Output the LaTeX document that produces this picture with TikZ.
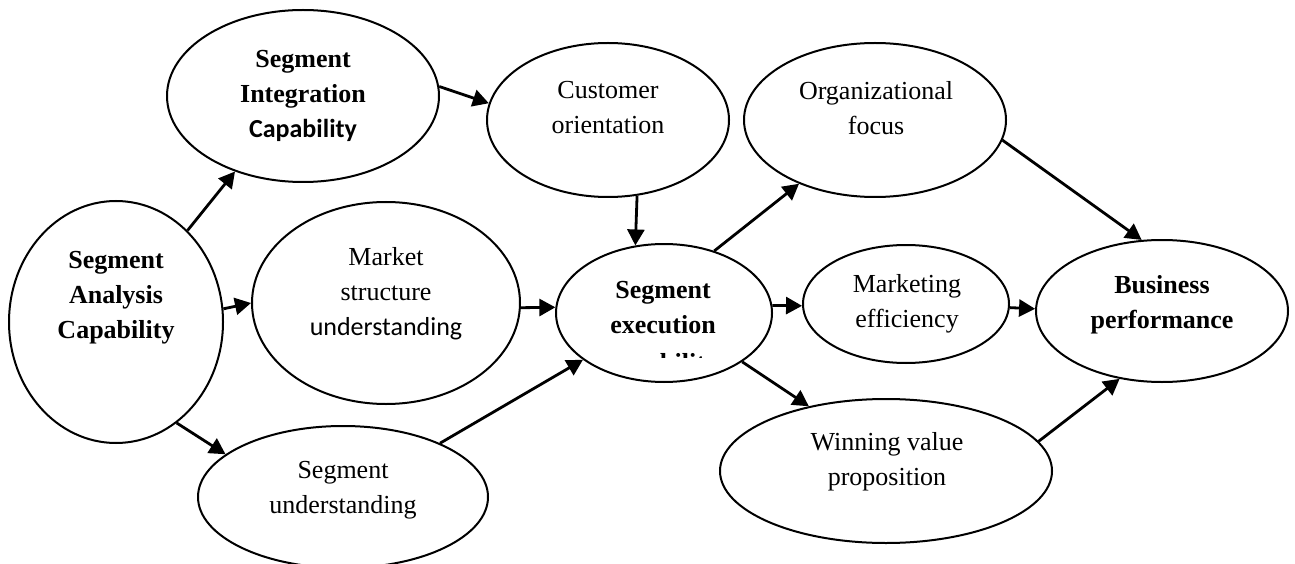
\documentclass[tikz,border=0pt]{standalone}
\usepackage{fontspec}
\setmainfont{Liberation Serif}
\newfontfamily\calibri{Carlito}
\usetikzlibrary{arrows.meta, shapes.geometric}

\begin{document}
\begin{tikzpicture}[x=1pt, y=-1pt, >={Triangle[length=16pt, width=17pt]}]
  \tikzstyle{oval}=[draw, ellipse, line width=2pt, inner sep=0pt]
  \tikzstyle{txt}=[align=center, inner sep=0pt, font=\fontsize{26}{35}\selectfont]
  \tikzstyle{btxt}=[txt, font=\fontsize{26}{35}\selectfont\bfseries]
  \tikzstyle{link}=[->, line width=2.8pt]

  \useasboundingbox (0,0) rectangle (1295,564);

  \node[oval, minimum width=214pt, minimum height=242pt] (ana) at (116,322) {};
  \node[oval, minimum width=272pt, minimum height=172pt] (integ) at (303,96) {};
  \node[oval, minimum width=268pt, minimum height=202pt] (market) at (386,303) {};
  \node[oval, minimum width=290pt, minimum height=142pt] (segund) at (343,497) {};
  \node[oval, minimum width=242pt, minimum height=154pt] (cust) at (608,120) {};
  \node[oval, minimum width=216pt, minimum height=138pt] (exec) at (664,313) {};
  \node[oval, minimum width=262pt, minimum height=154pt] (org) at (875,120) {};
  \node[oval, minimum width=206pt, minimum height=118pt] (mkteff) at (906,304) {};
  \node[oval, minimum width=332pt, minimum height=144pt] (win) at (886,471) {};
  \node[oval, minimum width=252pt, minimum height=142pt] (busi) at (1162,311) {};

  \node[btxt] (ana-t) at (116,298) {Segment\\Analysis\\Capability};
  \node[btxt] (integ-t) at (303,96) {Segment\\Integration\\{\calibri Capability}};
  \node[txt] (market-t) at (386,294) {Market\\structure\\{\calibri understanding}};
  \node[txt] (segund-t) at (343,490) {Segment\\understanding};
  \node[txt] (cust-t) at (608,108) {Customer\\orientation};
  \node[btxt] (exec-t) at (663,308) {Segment\\execution};
  \node[txt] (org-t) at (876,108) {Organizational\\focus};
  \node[txt] (mkteff-t) at (907,304) {Marketing\\efficiency};
  \node[txt] (win-t) at (887,462) {Winning value\\proposition};
  \node[btxt] (busi-t) at (1162,305) {Business\\performance};

  \begin{scope}
    \clip (600,349) rectangle (725,357);
    \node[inner sep=0pt, font=\fontsize{26}{35}\selectfont\bfseries, anchor=base] (cap-t) at (663,371) {capability};
  \end{scope}

  \draw[link] (ana.52) -- (integ.228);
  \draw[link] (ana.7) -- (market.180);
  \draw[link] (ana.-59) -- (segund.160);
  \draw[link] (integ.4) -- (cust.172);
  \draw[link] (cust.-69.5) -- (exec.113);
  \draw[link] (market.-2) -- (exec.177);
  \draw[link] (segund.29) -- (exec.210);
  \draw[link] (exec.51) -- (org.220);
  \draw[link] (exec.4) -- (mkteff.181);
  \draw[link] (exec.-32) -- (win.140);
  \draw[link] (org.-9) -- (busi.106);
  \draw[link] (mkteff.-2) -- (busi.179);
  \draw[link] (win.11) -- (busi.238);
\end{tikzpicture}
\end{document}
